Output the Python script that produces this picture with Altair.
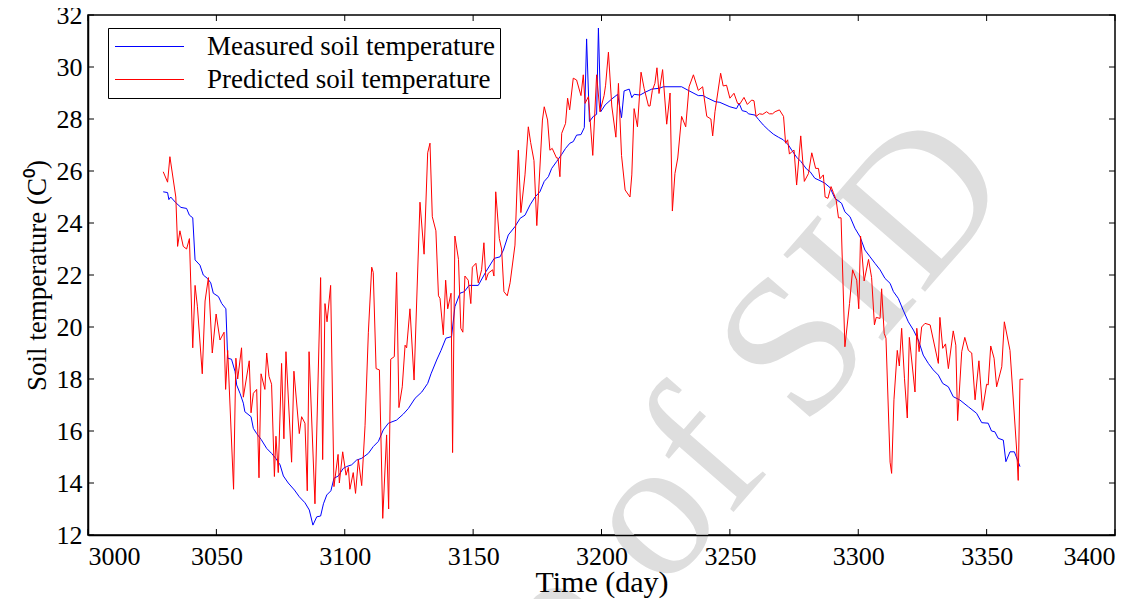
import altair as alt
import pandas as pd

# ---------------- data ----------------
meas_day = [3029.3, 3031.0, 3031.5, 3032.2, 3034.2, 3036.2, 3038.4, 3039.5, 3040.8, 3041.7,
            3043.6, 3044.9, 3046.5, 3047.8, 3048.8, 3050.8, 3052.1, 3053.7, 3054.4, 3055.9,
            3057.3, 3057.9, 3059.2, 3060.5, 3061.1, 3063.5, 3064.4, 3065.7, 3067.4, 3069.6,
            3071.5, 3073.1, 3074.8, 3076.1, 3078.0, 3080.4, 3082.3, 3084.5, 3086.2, 3087.6,
            3089.1, 3090.6, 3091.7, 3093.0, 3094.6, 3095.8, 3097.5, 3099.4, 3100.7, 3102.7,
            3104.6, 3106.6, 3109.2, 3111.1, 3113.1, 3115.0, 3117.0, 3120.2, 3122.8, 3124.8,
            3127.4, 3130.0, 3132.3, 3133.6, 3135.8, 3137.5, 3139.4, 3141.6, 3142.9, 3144.9,
            3146.6, 3148.4, 3152.0, 3155.0, 3158.2, 3160.5, 3161.8, 3163.7, 3166.3, 3168.3,
            3170.2, 3172.2, 3174.1, 3176.0, 3177.7, 3179.3, 3180.6, 3182.5, 3184.5, 3186.0,
            3187.7, 3189.0, 3190.3, 3192.0, 3193.3, 3194.2, 3195.3, 3196.8, 3198.1, 3198.8,
            3199.7, 3201.4, 3204.0, 3206.3, 3207.8, 3208.8, 3210.8, 3211.8, 3212.7, 3215.0,
            3217.0, 3219.6, 3222.4, 3224.1, 3231.2, 3233.8, 3237.7, 3239.6, 3241.0, 3244.2,
            3246.1, 3250.0, 3252.6, 3253.6, 3254.8, 3256.5, 3257.2, 3259.8, 3261.1, 3263.0,
            3265.0, 3266.9, 3268.9, 3270.8, 3272.8, 3274.1, 3276.0, 3277.7, 3279.9, 3281.2,
            3283.1, 3285.1, 3287.0, 3289.0, 3290.9, 3293.5, 3294.8, 3296.8, 3298.7, 3300.7,
            3302.6, 3304.6, 3306.5, 3308.5, 3310.4, 3312.4, 3313.7, 3315.6, 3317.5, 3319.5,
            3321.5, 3323.4, 3325.3, 3327.3, 3329.2, 3331.2, 3332.9, 3335.1, 3337.0, 3339.6,
            3342.9, 3346.1, 3348.1, 3350.6, 3351.9, 3353.2, 3354.5, 3356.5, 3357.5, 3359.1,
            3360.8, 3363.0]
meas_temp = [25.2, 25.17, 24.9, 25.0, 24.78, 24.6, 24.56, 24.3, 24.2, 22.58,
             22.38, 22.0, 21.87, 21.7, 21.3, 21.17, 20.9, 20.7, 18.8, 18.76,
             18.28, 17.77, 17.45, 17.07, 16.74, 16.55, 16.1, 15.9, 15.68, 15.33,
             15.14, 14.95, 14.7, 14.27, 14.0, 13.73, 13.47, 13.24, 12.96, 12.38,
             12.7, 12.73, 13.2, 13.54, 13.7, 14.18, 14.27, 14.56, 14.63, 14.7,
             14.88, 14.95, 15.14, 15.4, 15.6, 16.04, 16.3, 16.42, 16.65, 16.87,
             17.26, 17.5, 17.83, 18.2, 18.73, 19.1, 19.57, 19.63, 20.78, 21.3,
             21.36, 21.6, 21.6, 22.13, 22.64, 22.7, 22.96, 23.54, 23.86, 24.18,
             24.3, 24.7, 25.0, 25.2, 25.6, 25.78, 26.1, 26.36, 26.64, 26.87,
             27.07, 27.13, 27.38, 27.4, 27.67, 31.08, 27.9, 28.1, 28.18, 31.5,
             28.28, 28.54, 28.77, 28.95, 28.05, 29.08, 29.15, 28.82, 28.95, 28.92,
             29.03, 29.15, 29.18, 29.24, 29.24, 29.1, 28.9, 28.9, 28.82, 28.67,
             28.64, 28.47, 28.4, 28.6, 28.32, 28.28, 28.2, 28.15, 27.99, 27.77,
             27.58, 27.42, 27.3, 27.2, 27.0, 26.8, 26.53, 26.36, 26.07, 25.98,
             25.72, 25.63, 25.53, 25.36, 24.95, 24.76, 24.43, 24.24, 23.8, 23.47,
             22.96, 22.7, 22.45, 22.2, 21.87, 21.68, 21.36, 21.1, 20.65, 20.2,
             19.88, 19.5, 18.92, 18.6, 18.35, 18.15, 17.83, 17.7, 17.32, 17.19,
             16.93, 16.68, 16.32, 16.3, 16.0, 15.97, 15.72, 15.65, 14.82, 15.2,
             15.2, 14.63]

pred_day = [3029.3, 3031.0, 3031.9, 3034.2, 3034.9, 3035.8, 3037.1, 3038.4, 3039.5, 3040.8,
            3041.7, 3042.6, 3044.5, 3045.6, 3046.9, 3048.4, 3049.9, 3051.4, 3053.0, 3053.6,
            3054.4, 3056.7, 3057.6, 3058.3, 3059.8, 3060.5, 3062.8, 3063.5, 3064.4, 3065.7,
            3066.6, 3067.4, 3068.9, 3069.6, 3070.5, 3071.5, 3072.6, 3073.2, 3074.1, 3075.4,
            3076.3, 3077.1, 3079.3, 3080.2, 3082.3, 3083.2, 3084.5, 3085.4, 3086.1, 3088.4,
            3090.6, 3091.4, 3092.3, 3093.1, 3094.5, 3095.8, 3097.4, 3097.9, 3099.2, 3100.5,
            3101.4, 3102.0, 3103.3, 3104.2, 3105.3, 3106.6, 3107.9, 3109.2, 3110.5, 3111.1,
            3112.2, 3113.5, 3114.8, 3116.3, 3117.1, 3117.9, 3119.3, 3120.2, 3121.1, 3122.4,
            3123.5, 3124.1, 3125.4, 3127.0, 3129.3, 3130.9, 3132.3, 3133.2, 3134.1, 3135.5,
            3136.5, 3137.1, 3138.4, 3139.3, 3140.1, 3141.4, 3142.0, 3142.9, 3144.3, 3145.2,
            3146.0, 3146.8, 3148.1, 3149.1, 3149.7, 3151.1, 3152.0, 3153.3, 3154.2, 3155.0,
            3155.9, 3157.6, 3158.1, 3158.8, 3160.2, 3161.1, 3162.0, 3163.3, 3164.4, 3166.3,
            3167.6, 3168.6, 3170.2, 3171.5, 3172.4, 3173.7, 3174.8, 3177.0, 3177.7, 3179.0,
            3179.9, 3180.8, 3182.5, 3183.1, 3183.8, 3184.5, 3186.0, 3186.8, 3187.6, 3189.0,
            3190.3, 3192.0, 3192.9, 3193.6, 3194.9, 3196.6, 3198.1, 3199.4, 3201.0, 3201.6,
            3202.7, 3204.0, 3205.6, 3206.6, 3207.8, 3209.2, 3211.1, 3211.8, 3212.7, 3214.0,
            3215.4, 3216.6, 3218.3, 3218.9, 3219.8, 3220.8, 3221.6, 3222.4, 3223.8, 3225.4,
            3226.7, 3227.6, 3228.6, 3229.7, 3231.2, 3232.8, 3234.1, 3235.8, 3237.7, 3239.4,
            3241.0, 3242.6, 3243.3, 3244.2, 3246.4, 3247.4, 3248.7, 3250.0, 3251.6, 3253.0,
            3253.9, 3255.5, 3256.8, 3258.5, 3259.4, 3260.2, 3261.5, 3262.8, 3264.3, 3265.4,
            3266.6, 3267.6, 3269.3, 3270.9, 3271.7, 3272.5, 3273.2, 3274.1, 3275.0, 3276.0,
            3277.6, 3279.0, 3280.6, 3281.9, 3283.4, 3284.5, 3285.1, 3286.4, 3287.1, 3288.2,
            3289.4, 3290.3, 3291.4, 3292.3, 3293.3, 3294.8, 3296.6, 3297.8, 3299.4, 3300.2,
            3300.9, 3302.3, 3304.0, 3305.2, 3306.3, 3307.0, 3308.5, 3309.1, 3310.1, 3310.8,
            3312.4, 3313.0, 3313.9, 3315.2, 3316.0, 3316.9, 3318.0, 3319.1, 3319.9, 3322.1,
            3322.8, 3323.7, 3324.7, 3326.0, 3328.0, 3331.2, 3331.8, 3332.9, 3334.0, 3335.1,
            3337.0, 3338.0, 3338.7, 3340.3, 3341.5, 3342.9, 3344.2, 3345.5, 3347.0, 3348.4,
            3350.0, 3350.6, 3351.6, 3352.9, 3353.9, 3355.9, 3356.9, 3359.1, 3361.7, 3362.3,
            3363.0, 3364.3]
pred_temp = [25.97, 25.57, 26.55, 25.0, 23.1, 23.7, 23.1, 23.0, 23.4, 19.2,
             21.6, 20.8, 18.2, 21.0, 21.9, 19.0, 20.5, 19.5, 19.8, 17.6,
             19.1, 13.76, 18.8, 18.0, 19.2, 17.3, 18.7, 16.7, 17.45, 17.6,
             14.2, 18.2, 17.6, 19.0, 18.1, 17.8, 14.25, 15.8, 14.4, 18.6,
             15.7, 19.05, 14.8, 18.3, 15.9, 16.55, 16.3, 13.7, 19.05, 13.2,
             21.9, 14.9, 20.9, 20.2, 21.6, 13.86, 15.1, 14.0, 15.2, 14.3,
             14.6, 13.76, 14.4, 13.6, 14.9, 13.9, 16.2, 19.8, 22.3, 22.1,
             18.4, 18.35, 12.64, 15.85, 13.0, 18.76, 18.86, 22.1, 16.9, 17.7,
             19.3, 19.2, 20.7, 17.96, 24.8, 22.8, 26.7, 27.07, 24.24, 23.7,
             21.2, 21.1, 19.7, 21.8, 20.7, 21.3, 15.17, 23.5, 22.6, 19.95,
             19.8, 21.96, 21.8, 20.9, 22.3, 22.45, 21.7, 22.2, 23.24, 21.8,
             22.07, 22.2, 21.96, 25.2, 23.4, 23.0, 21.36, 21.2, 21.7, 23.15,
             26.8, 24.4, 25.85, 27.7, 27.1, 26.4, 23.9, 27.96, 28.47, 27.96,
             26.8, 26.87, 26.5, 26.5, 25.78, 27.45, 27.83, 28.8, 28.35, 29.57,
             29.5, 28.9, 29.7, 28.6, 28.86, 26.6, 29.7, 28.28, 28.9, 29.3,
             30.57, 28.5, 27.3, 29.37, 26.6, 25.27, 25.0, 25.85, 28.4, 27.7,
             29.8, 29.18, 28.5, 28.5, 29.1, 29.37, 29.97, 28.98, 29.9, 27.8,
             29.0, 24.46, 25.9, 26.5, 28.1, 27.7, 29.24, 29.7, 29.1, 29.24,
             28.1, 28.0, 27.35, 28.28, 29.76, 29.27, 29.3, 28.8, 28.99, 28.6,
             28.58, 28.83, 28.56, 28.73, 28.7, 28.1, 28.2, 28.18, 28.28, 28.2,
             28.2, 28.28, 28.35, 28.1, 27.07, 27.2, 26.65, 26.74, 26.8, 25.46,
             27.35, 25.6, 25.9, 26.7, 26.1, 26.1, 25.7, 25.85, 25.0, 24.95,
             25.4, 25.17, 24.88, 24.2, 24.2, 19.24, 20.9, 22.2, 21.8, 20.7,
             23.5, 21.77, 22.6, 21.9, 20.08, 20.37, 20.33, 21.47, 19.76, 19.57,
             14.8, 14.37, 17.2, 19.1, 18.5, 19.95, 18.03, 16.5, 19.6, 17.5,
             19.95, 19.05, 20.0, 20.14, 20.08, 18.6, 20.37, 19.18, 19.35, 18.4,
             19.85, 19.3, 16.4, 19.05, 19.6, 19.1, 19.0, 17.2, 18.7, 16.8,
             17.8, 17.77, 19.27, 18.8, 17.7, 18.47, 20.2, 19.1, 15.27, 14.1,
             17.99, 17.99]

series_names = ["Measured soil temperature", "Predicted soil temperature"]
series_colors = ["#0000ff", "#ff0000"]
x_ticks = [3000, 3050, 3100, 3150, 3200, 3250, 3300, 3350, 3400]
y_ticks = [12, 14, 16, 18, 20, 22, 24, 26, 28, 30, 32]
watermark = ["Archive of SID"]

assert len(meas_day) == len(meas_temp)
assert len(pred_day) == len(pred_temp)

rows = []
for i, (d, t) in enumerate(zip(meas_day, meas_temp)):
    rows.append({"day": d, "temp": t, "series": series_names[0], "idx": i})
for i, (d, t) in enumerate(zip(pred_day, pred_temp)):
    rows.append({"day": d, "temp": t, "series": series_names[1], "idx": i})
df = pd.DataFrame(rows)

W, H = 1027, 520
FONT = "Liberation Serif"
TK = 6

xs = alt.Scale(domain=[3000, 3400], nice=False, zero=False)
ys = alt.Scale(domain=[12, 32], nice=False, zero=False)

x_axis = alt.Axis(values=x_ticks, title="Time (day)", format="d",
                  labelPadding=8, titleFontSize=30, zindex=1,
                  titleX=W / 2, titleY=56, titleBaseline="alphabetic")
y_axis = alt.Axis(values=y_ticks, title="Soil temperature (C\u2070)", format="d",
                  labelPadding=6, titleFontSize=27, zindex=1,
                  titleX=-43, titleY=H / 2, titleBaseline="alphabetic")

wm = alt.Chart(pd.DataFrame({"t": watermark})).mark_text(
    font=FONT, fontSize=200, color="#dedede", angle=311,
    align="right", baseline="alphabetic"
).encode(text="t:N", x=alt.value(928), y=alt.value(172))

lines = alt.Chart(df).mark_line(strokeWidth=1, clip=True).encode(
    x=alt.X("day:Q", scale=xs, axis=x_axis),
    y=alt.Y("temp:Q", scale=ys, axis=y_axis),
    color=alt.Color("series:N",
                    scale=alt.Scale(domain=series_names, range=series_colors),
                    legend=alt.Legend(orient="none", legendX=20, legendY=13, title=None,
                                      symbolType="M-1,0H5", symbolSize=529,
                                      symbolStrokeWidth=1, labelFont=FONT,
                                      labelFontSize=27, labelColor="black",
                                      labelOffset=67, labelLimit=500, rowPadding=5,
                                      padding=5, strokeColor="black", fillColor="white")),
    order="idx:Q",
)

xt = pd.DataFrame({"day": x_ticks})
yt = pd.DataFrame({"temp": y_ticks})
tick_x_bottom = alt.Chart(xt).mark_rule(color="black", strokeWidth=1).encode(
    x=alt.X("day:Q", scale=xs, axis=x_axis), y=alt.value(H), y2=alt.value(H - TK))
tick_x_top = alt.Chart(xt).mark_rule(color="black", strokeWidth=1).encode(
    x=alt.X("day:Q", scale=xs, axis=x_axis), y=alt.value(0), y2=alt.value(TK))
tick_y_left = alt.Chart(yt).mark_rule(color="black", strokeWidth=1).encode(
    y=alt.Y("temp:Q", scale=ys, axis=y_axis), x=alt.value(0), x2=alt.value(TK))
tick_y_right = alt.Chart(yt).mark_rule(color="black", strokeWidth=1).encode(
    y=alt.Y("temp:Q", scale=ys, axis=y_axis), x=alt.value(W), x2=alt.value(W - TK))

chart = alt.layer(wm, lines, tick_x_bottom, tick_x_top, tick_y_left, tick_y_right).properties(
    width=W, height=H,
    autosize=alt.AutoSizeParams(type="none"),
    padding={"left": 80, "top": 7, "right": 20, "bottom": 64},
).configure_view(stroke="black", strokeWidth=1.5).configure_axis(
    grid=False, ticks=False, domainColor="black", domainWidth=1.5,
    labelFont=FONT, labelFontSize=26, labelColor="black",
    titleFont=FONT, titleFontWeight="normal", titleColor="black",
)

chart.save("out.html", embed_options={"renderer": "svg", "actions": False})
